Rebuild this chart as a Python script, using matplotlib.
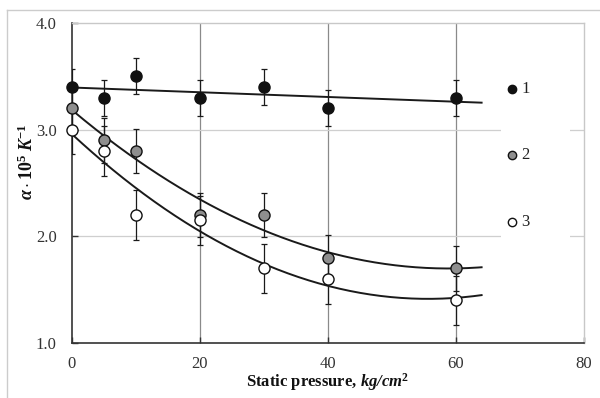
import numpy as np
import matplotlib
matplotlib.use("Agg")
import matplotlib.pyplot as plt
from matplotlib.lines import Line2D

# Measurements of thermal expansion coefficient vs. static pressure
pressure = [0, 5, 10, 20, 30, 40, 60]
alpha_1 = [3.4, 3.3, 3.5, 3.3, 3.4, 3.2, 3.3]
alpha_2 = [3.2, 2.9, 2.8, 2.2, 2.2, 1.8, 1.7]
alpha_3 = [3.0, 2.8, 2.2, 2.15, 1.7, 1.6, 1.4]
err_1 = [0.17, 0.17, 0.17, 0.17, 0.17, 0.17, 0.17]
err_2 = [0.21, 0.21, 0.21, 0.21, 0.21, 0.21, 0.21]
err_3 = [0.23, 0.23, 0.23, 0.23, 0.23, 0.23, 0.23]
series_labels = ["1", "2", "3"]
fill_colors = ["#111111", "#8e8e8e", "#ffffff"]
fit_orders = [1, 2, 2]

x_ticks = [0, 20, 40, 60, 80]
y_ticks = [1.0, 2.0, 3.0, 4.0]

plt.rcParams["font.family"] = ["Liberation Serif", "DejaVu Serif"]
plt.rcParams["mathtext.fontset"] = "custom"
plt.rcParams["mathtext.rm"] = "Liberation Serif"
plt.rcParams["mathtext.it"] = "Liberation Serif:italic"
plt.rcParams["mathtext.bf"] = "Liberation Serif:bold"
plt.rcParams["mathtext.bfit"] = "Liberation Serif:bold:italic"

W, H = 600, 398
fig = plt.figure(figsize=(W / 100, H / 100), dpi=100)
ax = fig.add_axes([72 / W, 1 - 343 / H, (584 - 72) / W, (343 - 23) / H])

ax.set_xlim(0, 80)
ax.set_ylim(1.0, 4.0)
ax.set_xticks(x_ticks)
ax.set_yticks(y_ticks)
ax.set_xticklabels([str(v) for v in x_ticks])
ax.set_yticklabels([f"{v:.1f}" for v in y_ticks])
ax.tick_params(direction="in", length=4, width=1, labelsize=12, pad=9,
               colors="#333333", labelcolor="#333333")
ax.tick_params(axis="y", pad=11)

# grid: darker vertical lines, lighter horizontal lines
for xv in [20, 40, 60]:
    ax.axvline(xv, color="#8a8a8a", lw=0.9, zorder=0)
for yv in [2.0, 3.0]:
    ax.axhline(yv, color="#cfcfcf", lw=0.9, zorder=0)

for side in ["left", "bottom"]:
    ax.spines[side].set_color("#333333")
    ax.spines[side].set_linewidth(1.2)
for side in ["right", "top"]:
    ax.spines[side].set_color("#c8c8c8")
    ax.spines[side].set_linewidth(1.0)

# white panel behind the key, hiding the grid there
ax.axvspan(67.0, 77.8, ymin=0.28, ymax=0.85, color="white", zorder=0.5, lw=0)

x_fit = np.linspace(0, 64, 200)
series = [alpha_1, alpha_2, alpha_3]
errors = [err_1, err_2, err_3]
for ys, es, fc, order in zip(series, errors, fill_colors, fit_orders):
    coef = np.polyfit(pressure, ys, order)
    ax.plot(x_fit, np.polyval(coef, x_fit), color="#1a1a1a", lw=1.4, zorder=2)
    ax.errorbar(pressure, ys, yerr=es, fmt="none", ecolor="#1a1a1a",
                elinewidth=0.9, capsize=2, capthick=0.9, zorder=3)
    ax.plot(pressure, ys, "o", ms=8, mfc=fc, mec="#111111", mew=1.0,
            zorder=4, clip_on=False)

# key
key_y = [3.38, 2.76, 2.13]
for lab, fc, ky in zip(series_labels, fill_colors, key_y):
    ax.plot([68.7], [ky], "o", ms=6, mfc=fc, mec="#111111", mew=1.0, zorder=5)
    ax.text(70.2, ky, lab, fontsize=12, va="center", ha="left", color="#222222", zorder=5)

ax.set_xlabel(r"Static pressure, $\mathbfit{kg/cm}^{\mathbf{2}}$", fontsize=12,
              fontweight="bold", labelpad=0, color="#111111")
fig.text(27 / W, 1 - 162 / H, r"$\mathbfit{\alpha}\cdot\mathbf{10^5}\ \mathbfit{K}^{\mathbf{-1}}$",
         rotation=90, fontsize=13, ha="center", va="center", color="#111111")

# outer frame lines (top and left)
fig.add_artist(Line2D([7 / W, 1], [1 - 10 / H, 1 - 10 / H], color="#cccccc", lw=1.0,
                      transform=fig.transFigure))
fig.add_artist(Line2D([7 / W, 7 / W], [0, 1 - 10 / H], color="#cccccc", lw=1.0,
                      transform=fig.transFigure))

fig.savefig("out.png", dpi=100, facecolor="white")
